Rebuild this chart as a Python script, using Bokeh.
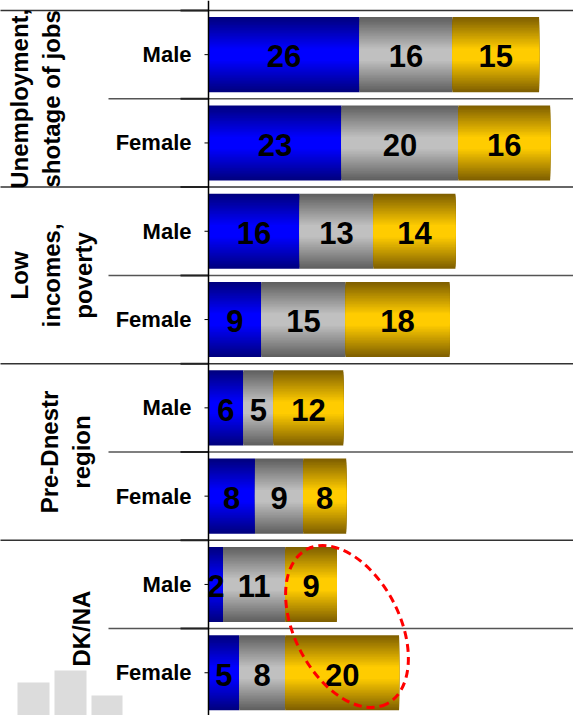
import math
from bokeh.plotting import figure
from bokeh.models import ColumnDataSource, Range1d
from bokeh.core.properties import value
from bokeh.embed import file_html
from bokeh.resources import INLINE

# ---------------- data ----------------
groups = ["Unemployment,\nshotage of jobs", "Low\nincomes,\npoverty", "Pre-Dnestr\nregion", "DK/NA"]
subgroups = ["Male", "Female"]
# bar lengths (rows: group x subgroup, top to bottom)
blue_vals = [26.0, 22.9, 15.7, 9.1, 6.0, 8.0, 2.5, 5.3]
gray_vals = [16.0, 20.1, 12.7, 14.5, 5.2, 8.3, 10.7, 7.9]
gold_vals = [14.9, 15.8, 14.1, 17.9, 12.0, 7.4, 8.9, 19.6]
# printed labels
blue_labels = ["26", "23", "16", "9", "6", "8", "2", "5"]
gray_labels = ["16", "20", "13", "15", "5", "9", "11", "8"]
gold_labels = ["15", "16", "14", "18", "12", "8", "9", "20"]

# ---------------- layout ----------------
W, H = 573, 715
OFF = 0
ZERO_PX = 208           # x pixel of value 0
PPU = 5.81              # pixels per unit
TOP_PX = 10             # y pixel of top border
ROW_PX = 88.3           # pixels per row

def dx(px):
    return (px - ZERO_PX) / PPU

def dy(py):
    return (py - TOP_PX) / ROW_PX

x_range = Range1d(dx(OFF), dx(OFF + W))
y_range = Range1d(dy(OFF + H), dy(OFF))

p = figure(width=W, height=H, x_range=x_range, y_range=y_range,
           toolbar_location=None, output_backend="svg",
           x_axis_location=None, y_axis_location=None,
           min_border=0, outline_line_color=None,
           background_fill_color="white", border_fill_color="white")
p.grid.visible = False

n_rows = len(groups) * len(subgroups)
rows = [i + 0.5 for i in range(n_rows)]
BAR_H = 0.85

# watermark icon (decorative)
wm = dict(left=[dx(17), dx(54), dx(91)], right=[dx(49), dx(86), dx(122)],
          top=[dy(682), dy(670), dy(695)], bottom=[dy(730)] * 3)
p.quad(source=ColumnDataSource(wm), left="left", right="right", top="top", bottom="bottom",
       fill_color="#dcdcdc", line_color=None)

# gradient bars: concentric layers, darkest (full height) first, brightest (thin) last
N = 24
series = [
    (blue_vals, (0, 0, 128), (0, 0, 255)),
    (gray_vals, (96, 96, 96), (192, 192, 192)),
    (gold_vals, (128, 96, 0), (255, 204, 0)),
]
layer = dict(y=[], left=[], right=[], h=[], color=[])
lefts = [0.0] * n_rows
for vals, edge, center in series:
    for r in range(n_rows):
        l = lefts[r]
        rr = l + vals[r]
        for k in range(N):
            frac = k / N
            f = min(1.0, frac * 1.2)
            c = tuple(int(round(edge[j] + (center[j] - edge[j]) * f)) for j in range(3))
            layer["y"].append(rows[r])
            layer["left"].append(l)
            layer["right"].append(rr)
            layer["h"].append(BAR_H * (1 - frac))
            layer["color"].append("#%02x%02x%02x" % c)
        lefts[r] = rr
p.hbar(source=ColumnDataSource(layer), y="y", left="left", right="right",
       height="h", fill_color="color", line_color=None)

# value labels
lab = dict(x=[], y=[], text=[])
lefts = [0.0] * n_rows
for vals, labels in [(blue_vals, blue_labels), (gray_vals, gray_labels), (gold_vals, gold_labels)]:
    for r in range(n_rows):
        lab["x"].append(lefts[r] + vals[r] / 2)
        lab["y"].append(rows[r] + 0.02)
        lab["text"].append(labels[r])
        lefts[r] += vals[r]
p.text(source=ColumnDataSource(lab), x="x", y="y", text="text",
       text_align="center", text_baseline="middle",
       text_font=value("Liberation Sans"), text_font_style="bold",
       text_font_size="31px", text_color="black")

# separators
grp_b = [2 * g for g in range(len(groups))]
sub_b = [2 * g + 1 for g in range(len(groups))]
p.segment(x0=[dx(-5)] * len(grp_b), x1=[dx(W + 5)] * len(grp_b), y0=grp_b, y1=grp_b,
          line_color="#333333", line_width=1.5)
p.segment(x0=[dx(108)] * len(sub_b), x1=[dx(W + 5)] * len(sub_b), y0=sub_b, y1=sub_b,
          line_color="#555555", line_width=1.5)
allb = grp_b + sub_b
p.segment(x0=[dx(180)] * len(allb), x1=[0] * len(allb), y0=allb, y1=allb,
          line_color="#222222", line_width=2)
# axis line and ticks
p.segment(x0=[0], x1=[0], y0=[dy(0)], y1=[dy(760)], line_color="black", line_width=1.5)
p.segment(x0=[dx(204)] * n_rows, x1=[0] * n_rows, y0=rows, y1=rows, line_color="black", line_width=1)

# sub labels
sub_src = dict(x=[dx(191)] * n_rows, y=rows, text=[subgroups[i % 2] for i in range(n_rows)])
p.text(source=ColumnDataSource(sub_src), x="x", y="y", text="text",
       text_align="right", text_baseline="middle",
       text_font=value("Liberation Sans"), text_font_style="bold",
       text_font_size="22px", text_color="black")

# group labels (rotated)
grp_x_px = [35, 51, 65, 81]
grp_src = dict(x=[dx(v) for v in grp_x_px], y=[2 * g + 1 for g in range(len(groups))], text=groups)
p.text(source=ColumnDataSource(grp_src), x="x", y="y", text="text", angle=math.pi / 2,
       text_align="center", text_baseline="middle", text_line_height=1.2,
       text_font=value("Liberation Sans"), text_font_style="bold",
       text_font_size="24px", text_color="black")

# highlight ellipse
p.ellipse(x=[dx(346.5)], y=[dy(626)], width=174, height=105,
          width_units="screen", height_units="screen",
          angle=-62.7, angle_units="deg",
          fill_color=None, line_color="red", line_width=3, line_dash="8 5")

open("out.html", "w").write(file_html(p, INLINE))
